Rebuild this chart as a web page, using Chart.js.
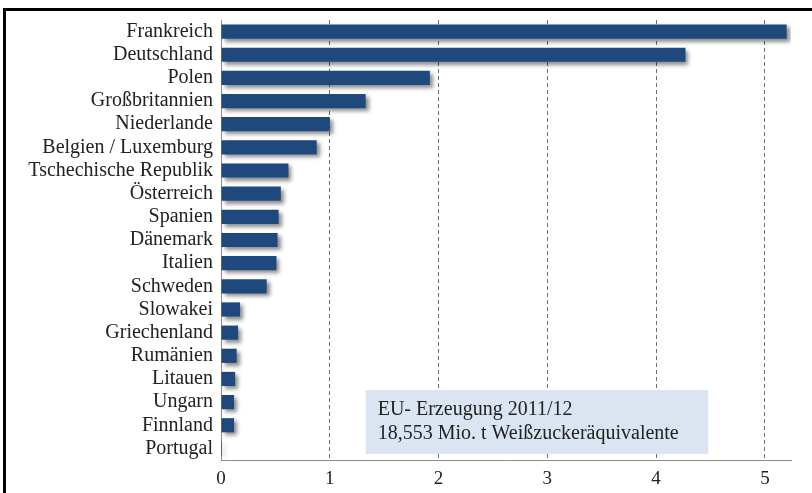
<!DOCTYPE html>
<html>
<head>
<meta charset="utf-8">
<script src="https://cdn.jsdelivr.net/npm/chart.js@4"></script>
<style>
  body { margin: 0; background: #fff; }
  #wrap { position: relative; width: 812px; height: 493px; }
  #frame { position: absolute; left: 3px; top: 8px; width: 809px; height: 485px;
           border-top: 3px solid #000; border-left: 3px solid #000; box-sizing: border-box; }
  canvas { position: absolute; left: 0; top: 0; }
  #probe { position: absolute; left: -999px; font-family: "Liberation Serif"; }
</style>
</head>
<body>
<div id="wrap">
  <div id="frame"></div>
  <canvas id="myChart" width="812" height="493"></canvas>
</div>
<span id="probe">Frankreich</span>
<script>
const countries = ['Frankreich', 'Deutschland', 'Polen', 'Großbritannien', 'Niederlande',
  'Belgien / Luxemburg', 'Tschechische Republik', 'Österreich', 'Spanien', 'Dänemark',
  'Italien', 'Schweden', 'Slowakei', 'Griechenland', 'Rumänien', 'Litauen', 'Ungarn',
  'Finnland', 'Portugal']
// Mio. t Weißzuckeräquivalent
const production = [5.20, 4.27, 1.92, 1.33, 1.00, 0.88, 0.62, 0.55, 0.53, 0.52,
  0.51, 0.42, 0.175, 0.157, 0.144, 0.13, 0.12, 0.12, 0.01]
const xTicks = [0, 1, 2, 3, 4, 5]
const noteLines = ['EU- Erzeugung 2011/12', '18,553 Mio. t Weißzuckeräquivalente']

const serif = '"Liberation Serif", "Times New Roman", serif'

// drop shadow under the bars
const barShadow = {
  id: 'barShadow',
  beforeDatasetsDraw(chart) {
    const c = chart.ctx
    c.save()
    c.shadowColor = 'rgba(0,0,0,0.45)'
    c.shadowOffsetX = 3
    c.shadowOffsetY = 3
    c.shadowBlur = 4
  },
  afterDatasetsDraw(chart) {
    chart.ctx.restore()
  }
}

// text box in the lower right
const noteBox = {
  id: 'noteBox',
  beforeDatasetsDraw(chart) {
    const c = chart.ctx
    const x = chart.scales.x
    const area = chart.chartArea
    const left = x.getPixelForValue(1.33)
    const right = x.getPixelForValue(4.48)
    const top = area.bottom - 70
    const bottom = area.bottom - 6
    c.save()
    c.fillStyle = '#dbe5f1'
    c.fillRect(left, top, right - left, bottom - top)
    c.fillStyle = '#222'
    c.font = '20px ' + serif
    c.textBaseline = 'alphabetic'
    noteLines.forEach((t, i) => c.fillText(t, left + 12, top + 25 + i * 24))
    c.restore()
  }
}

function draw() {
  const ctx = document.getElementById('myChart')
  new Chart(ctx, {
    type: 'bar',
    data: {
      labels: countries,
      datasets: [{
        data: production,
        backgroundColor: '#1f497d',
        barPercentage: 0.68,
        categoryPercentage: 0.9
      }]
    },
    options: {
      indexAxis: 'y',
      responsive: false,
      animation: false,
      layout: { padding: { top: 20, right: 21, left: 0, bottom: 0 } },
      plugins: { legend: { display: false }, tooltip: { enabled: false } },
      scales: {
        x: {
          min: 0,
          max: 5.24,
          afterBuildTicks: s => { s.ticks = xTicks.map(v => ({ value: v })) },
          afterFit: s => { s.height = 33 },
          grid: {
            color: c => c.tick && c.tick.value === 0 ? 'rgba(0,0,0,0)' : '#6f6f6f',
            drawTicks: false
          },
          border: { color: '#8c8c8c', width: 1, dash: [4, 3] },
          ticks: { color: '#222', font: { family: serif, size: 19 }, padding: 8 }
        },
        y: {
          afterFit: s => { s.width = 221 },
          grid: { display: false, drawTicks: false },
          border: { color: '#8c8c8c', width: 1 },
          ticks: { color: '#222', font: { family: serif, size: 20 }, padding: 8, autoSkip: false }
        }
      }
    },
    plugins: [noteBox, barShadow]
  })
}

document.fonts.load('20px "Liberation Serif"').then(draw, draw)
</script>
</body>
</html>
